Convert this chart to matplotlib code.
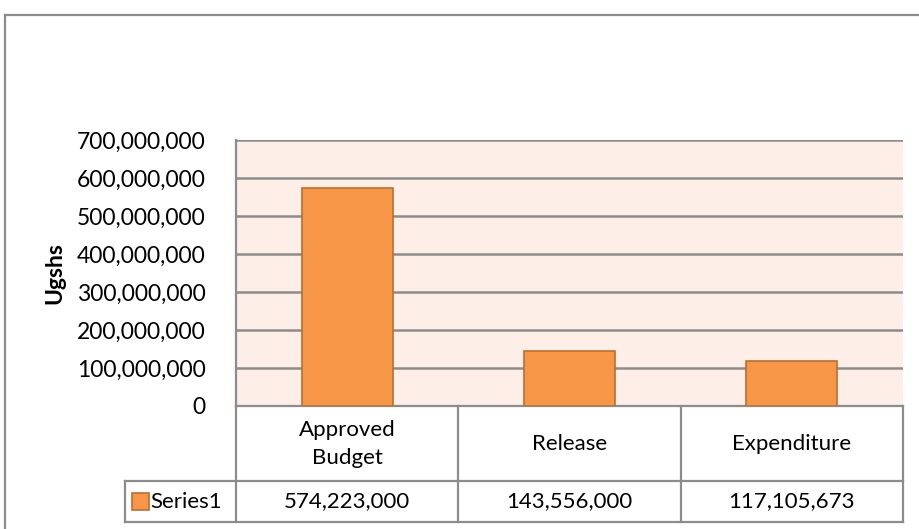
import matplotlib.pyplot as plt
import matplotlib.transforms as mtransforms
from matplotlib.patches import Rectangle
from matplotlib.lines import Line2D

categories = ["Approved\nBudget", "Release", "Expenditure"]
values = [574223000, 143556000, 117105673]
series_name = "Series1"
yticks = [0, 100000000, 200000000, 300000000, 400000000, 500000000, 600000000, 700000000]

bar_color = "#F79646"
edge_color = "#B8702F"
plot_bg = "#FDEEE8"
grid_color = "#8C8C8C"

plt.rcParams["font.family"] = ["Lato", "DejaVu Sans"]

W, H = 920, 529
fig = plt.figure(figsize=(W / 100, H / 100), dpi=100)

# chart area frame (runs off the right and bottom edges)
fig.add_artist(Line2D([5.5 / W, 5.5 / W], [0, 1 - 14.5 / H], transform=fig.transFigure,
                      color="#8C8C8C", lw=1.6))
fig.add_artist(Line2D([5.5 / W, 1], [1 - 14.5 / H, 1 - 14.5 / H], transform=fig.transFigure,
                      color="#8C8C8C", lw=1.6))

left, right, top, bottom = 236, 903, 140, 406
ax = fig.add_axes([left / W, 1 - bottom / H, (right - left) / W, (bottom - top) / H])
ax.set_facecolor(plot_bg)

x = list(range(len(categories)))
ax.bar(x, values, width=0.41, color=bar_color, edgecolor=edge_color, linewidth=1.2, zorder=3)

ax.set_xlim(-0.5, len(categories) - 0.5)
ax.set_ylim(0, 700000000)
ax.set_yticks(yticks)
ax.set_yticklabels([f"{v:,}" for v in yticks], fontsize=16.5)
ax.tick_params(axis="y", length=0, pad=22)
ax.set_xticks([])
ax.yaxis.grid(True, color=grid_color, lw=1.8, zorder=1)
for s in ["top", "right", "bottom"]:
    ax.spines[s].set_visible(False)
ax.spines["left"].set_color(grid_color)
ax.spines["left"].set_linewidth(1.6)
ax.set_ylabel("Ugshs", fontsize=16.5, fontweight="bold", labelpad=8)

# data table under the plot: x in data units, y in axes fraction
tr = mtransforms.blended_transform_factory(ax.transData, ax.transAxes)
row_h = (bottom - top)
y_head = 0.0
y_mid = -(481 - bottom) / row_h
y_low = -(522 - bottom) / row_h
n = len(categories)
lc = dict(color=grid_color, lw=1.6, transform=tr, clip_on=False)

ax.add_line(Line2D([-0.5, n - 0.5], [y_head, y_head], **lc))
ax.add_line(Line2D([-1.0, n - 0.5], [y_mid, y_mid], **lc))
ax.add_line(Line2D([-1.0, n - 0.5], [y_low, y_low], **lc))
for xb in [i - 0.5 for i in range(n + 1)]:
    ax.add_line(Line2D([xb, xb], [y_head, y_low], **lc))
ax.add_line(Line2D([-1.0, -1.0], [y_mid, y_low], **lc))

for i, (cat, val) in enumerate(zip(categories, values)):
    ax.text(i, (y_head + y_mid) / 2, cat, transform=tr, ha="center", va="center",
            fontsize=16, linespacing=1.5, clip_on=False)
    ax.text(i, (y_mid + y_low) / 2, f"{val:,}", transform=tr, ha="center", va="center",
            fontsize=16, clip_on=False)

# legend key and series name in the table's first column
ax.add_patch(Rectangle((-0.967, y_mid - 0.108), 0.075, 0.064, transform=tr,
                       facecolor=bar_color, edgecolor=edge_color, lw=1.2, clip_on=False))
ax.text(-0.885, (y_mid + y_low) / 2, series_name, transform=tr, ha="left", va="center",
        fontsize=16, clip_on=False)

fig.savefig("out.png", dpi=100)
